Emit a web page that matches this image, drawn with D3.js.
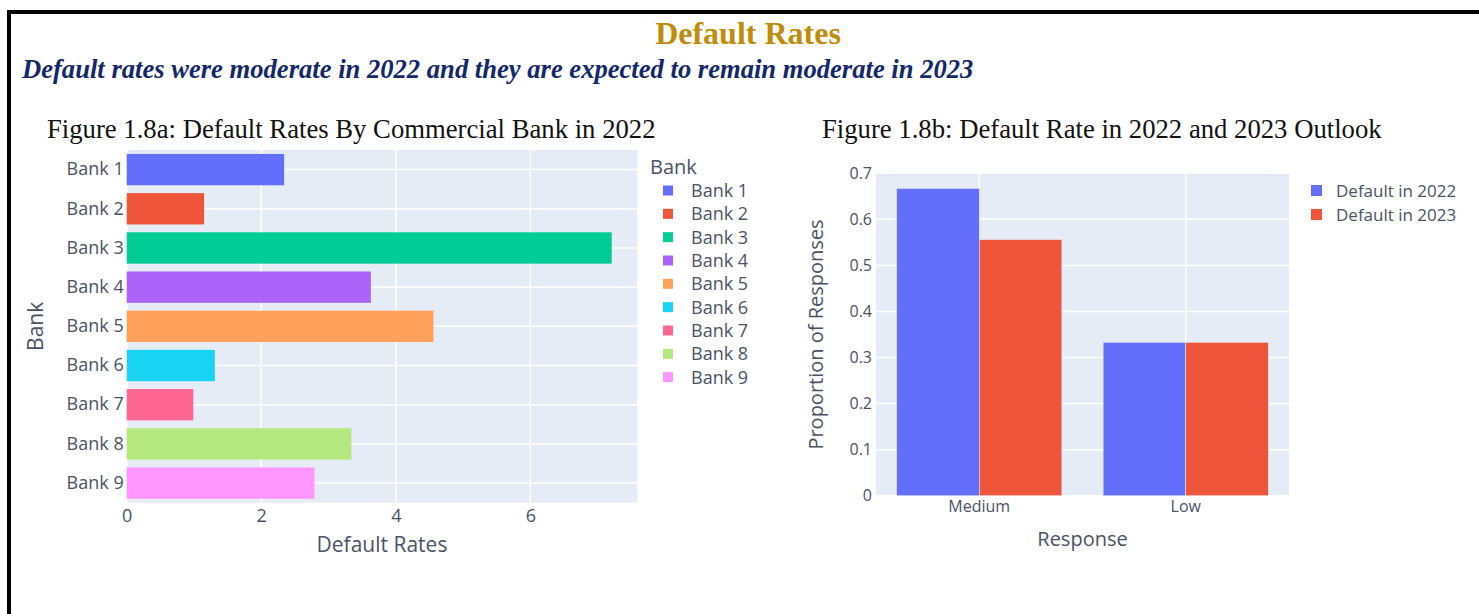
<!DOCTYPE html>
<html>
<head>
<meta charset="utf-8">
<script src="https://cdn.jsdelivr.net/npm/d3@7"></script>
<style>
  html, body { margin: 0; padding: 0; background: #ffffff; }
  svg { display: block; }
</style>
</head>
<body>
<svg id="page" width="1479" height="614"></svg>
<script>
// ---- Figure 1.8a: default rate by commercial bank, 2022 ----
const banks = ["Bank 1", "Bank 2", "Bank 3", "Bank 4", "Bank 5", "Bank 6", "Bank 7", "Bank 8", "Bank 9"];
const bankRates = [2.34, 1.15, 7.21, 3.63, 4.56, 1.31, 0.99, 3.34, 2.79];
const bankColors = ["#636efa", "#ef553b", "#00cc96", "#ab63fa", "#ffa15a", "#19d3f3", "#ff6692", "#b6e880", "#ff97ff"];
const rateTicks = [0, 2, 4, 6];

// ---- Figure 1.8b: default rate in 2022 and 2023 outlook ----
const responses = ["Medium", "Low"];
const default2022 = [0.667, 0.333];
const default2023 = [0.556, 0.333];
const seriesNames = ["Default in 2022", "Default in 2023"];
const seriesColors = ["#636efa", "#ef553b"];
const proportionTicks = [0, 0.1, 0.2, 0.3, 0.4, 0.5, 0.6, 0.7];

const svg = d3.select("#page");
const TEXT = "#4b5364";
const PLOT_BG = "#e5ecf6";
const SANS = "'Open Sans', 'DejaVu Sans', sans-serif";
const SERIF = "'Liberation Serif', 'Times New Roman', serif";

// frame lines (top and left)
svg.append("rect").attr("x", 7).attr("y", 10).attr("width", 1472).attr("height", 4).attr("fill", "#000");
svg.append("rect").attr("x", 7).attr("y", 10).attr("width", 4).attr("height", 604).attr("fill", "#000");

// headings
svg.append("text")
  .attr("x", 748).attr("y", 44)
  .attr("text-anchor", "middle")
  .attr("font-family", SERIF).attr("font-weight", "bold").attr("font-size", 32)
  .attr("fill", "#bf8c0c")
  .text("Default Rates");

svg.append("text")
  .attr("x", 22).attr("y", 78)
  .attr("font-family", SERIF).attr("font-weight", "bold").attr("font-style", "italic").attr("font-size", 26.6)
  .attr("fill", "#14286a")
  .text("Default rates were moderate in 2022 and they are expected to remain moderate in 2023");

svg.append("text")
  .attr("x", 47).attr("y", 138)
  .attr("font-family", SERIF).attr("font-size", 26.7).attr("fill", "#111")
  .text("Figure 1.8a: Default Rates By Commercial Bank in 2022");

svg.append("text")
  .attr("x", 822).attr("y", 138)
  .attr("font-family", SERIF).attr("font-size", 26.7).attr("fill", "#111")
  .text("Figure 1.8b: Default Rate in 2022 and 2023 Outlook");

// ================= left chart: horizontal bars =================
{
  const left = 126.7, right = 637.3, top = 150, bottom = 502.7;
  const x = d3.scaleLinear().domain([0, 7.59]).range([left, right]);
  const y = d3.scaleBand().domain(banks).range([top, bottom]).paddingInner(0.2).paddingOuter(0.1);
  const g = svg.append("g");

  g.append("rect").attr("x", left).attr("y", top).attr("width", right - left).attr("height", bottom - top).attr("fill", PLOT_BG);

  // grid
  g.append("g").selectAll("line").data(rateTicks).join("line")
    .attr("x1", d => x(d)).attr("x2", d => x(d)).attr("y1", top).attr("y2", bottom)
    .attr("stroke", "#fff").attr("stroke-width", d => d === 0 ? 2 : 1.5);
  g.append("g").selectAll("line").data(banks).join("line")
    .attr("x1", left).attr("x2", right)
    .attr("y1", d => y(d) + y.bandwidth() / 2).attr("y2", d => y(d) + y.bandwidth() / 2)
    .attr("stroke", "#fff").attr("stroke-width", 1.5);

  // bars
  g.append("g").selectAll("rect").data(banks).join("rect")
    .attr("x", x(0))
    .attr("y", d => y(d))
    .attr("width", (d, i) => x(bankRates[i]) - x(0))
    .attr("height", y.bandwidth())
    .attr("fill", (d, i) => bankColors[i]);

  // axes
  const xAxis = g.append("g").attr("transform", `translate(0,${bottom})`)
    .call(d3.axisBottom(x).tickValues(rateTicks).tickSize(0).tickPadding(7).tickFormat(d3.format("d")));
  xAxis.select(".domain").remove();
  xAxis.selectAll("text").attr("font-family", SANS).attr("font-size", 18).attr("fill", TEXT);

  const yAxis = g.append("g").attr("transform", `translate(${left},0)`)
    .call(d3.axisLeft(y).tickSize(0).tickPadding(3));
  yAxis.select(".domain").remove();
  yAxis.selectAll("text").attr("font-family", SANS).attr("font-size", 18).attr("fill", TEXT);

  g.append("text")
    .attr("x", (left + right) / 2).attr("y", 552)
    .attr("text-anchor", "middle")
    .attr("font-family", SANS).attr("font-size", 21).attr("fill", TEXT)
    .text("Default Rates");

  g.append("text")
    .attr("transform", `translate(43,${(top + bottom) / 2}) rotate(-90)`)
    .attr("text-anchor", "middle")
    .attr("font-family", SANS).attr("font-size", 21).attr("fill", TEXT)
    .text("Bank");

  // legend
  const lg = g.append("g");
  lg.append("text").attr("x", 650).attr("y", 174)
    .attr("font-family", SANS).attr("font-size", 20).attr("fill", TEXT).text("Bank");
  const rows = lg.selectAll("g.item").data(banks).join("g")
    .attr("class", "item")
    .attr("transform", (d, i) => `translate(663,${190.5 + i * 23.33})`);
  rows.append("rect").attr("x", 0).attr("y", -5).attr("width", 10).attr("height", 10)
    .attr("fill", (d, i) => bankColors[i]);
  rows.append("text").attr("x", 28).attr("y", 6.5)
    .attr("font-family", SANS).attr("font-size", 18).attr("fill", TEXT)
    .text(d => d);
}

// ================= right chart: grouped vertical bars =================
{
  const left = 876, right = 1289, top = 173.3, bottom = 495.7;
  const x = d3.scaleBand().domain(responses).range([left, right]).paddingInner(0.2).paddingOuter(0.1);
  const xs = d3.scaleBand().domain(seriesNames).range([0, x.bandwidth()]).padding(0);
  const y = d3.scaleLinear().domain([0, 0.7]).range([bottom, top]);
  const series = [default2022, default2023];
  const g = svg.append("g");

  g.append("rect").attr("x", left).attr("y", top).attr("width", right - left).attr("height", bottom - top).attr("fill", PLOT_BG);

  g.append("g").selectAll("line").data(proportionTicks).join("line")
    .attr("x1", left).attr("x2", right).attr("y1", d => y(d)).attr("y2", d => y(d))
    .attr("stroke", "#fff").attr("stroke-width", 1.5);
  g.append("g").selectAll("line").data(responses).join("line")
    .attr("x1", d => x(d) + x.bandwidth() / 2).attr("x2", d => x(d) + x.bandwidth() / 2)
    .attr("y1", top).attr("y2", bottom)
    .attr("stroke", "#fff").attr("stroke-width", 1.5);

  seriesNames.forEach((name, s) => {
    g.append("g").selectAll("rect").data(responses).join("rect")
      .attr("x", d => x(d) + xs(name))
      .attr("y", (d, i) => y(series[s][i]))
      .attr("width", xs.bandwidth())
      .attr("height", (d, i) => y(0) - y(series[s][i]))
      .attr("fill", seriesColors[s])
      .attr("stroke", "#e5ecf6").attr("stroke-width", 0.5);
  });

  const xAxis = g.append("g").attr("transform", `translate(0,${bottom})`)
    .call(d3.axisBottom(x).tickSize(0).tickPadding(5));
  xAxis.select(".domain").remove();
  xAxis.selectAll("text").attr("font-family", SANS).attr("font-size", 16).attr("fill", TEXT);

  const yAxis = g.append("g").attr("transform", `translate(${left},0)`)
    .call(d3.axisLeft(y).tickValues(proportionTicks).tickSize(0).tickPadding(4).tickFormat(d => d === 0 ? "0" : d3.format(".1f")(d)));
  yAxis.select(".domain").remove();
  yAxis.selectAll("text").attr("font-family", SANS).attr("font-size", 16).attr("fill", TEXT);

  g.append("text")
    .attr("x", (left + right) / 2).attr("y", 546)
    .attr("text-anchor", "middle")
    .attr("font-family", SANS).attr("font-size", 20).attr("fill", TEXT)
    .text("Response");

  g.append("text")
    .attr("transform", `translate(823,${(top + bottom) / 2}) rotate(-90)`)
    .attr("text-anchor", "middle")
    .attr("font-family", SANS).attr("font-size", 20).attr("fill", TEXT)
    .text("Proportion of Responses");

  const rows = g.append("g").selectAll("g").data(seriesNames).join("g")
    .attr("transform", (d, i) => `translate(1311,${190.5 + i * 24})`);
  rows.append("rect").attr("x", 0).attr("y", -5.5).attr("width", 11).attr("height", 11)
    .attr("fill", (d, i) => seriesColors[i]);
  rows.append("text").attr("x", 25).attr("y", 6)
    .attr("font-family", SANS).attr("font-size", 17).attr("fill", TEXT)
    .text(d => d);
}
</script>
</body>
</html>
